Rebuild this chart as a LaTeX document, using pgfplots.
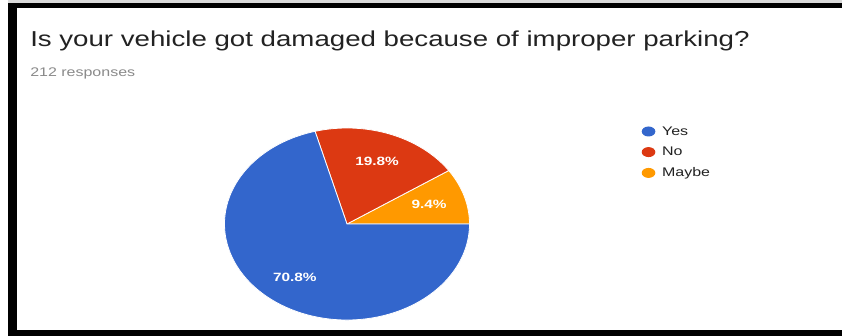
\documentclass[border=0pt]{standalone}
\usepackage{pgfplots}
\pgfplotsset{compat=1.18}
\usepackage{pgfplotstable}
\usepackage{fontspec}
\setmainfont{Liberation Sans}
\definecolor{gYes}{HTML}{3366CC}
\definecolor{gNo}{HTML}{DC3912}
\definecolor{gMaybe}{HTML}{FF9900}
\definecolor{titlec}{HTML}{222222}
\definecolor{subc}{HTML}{8A8A8A}
\pgfplotstableread{
label value
Yes 70.8
No 19.8
Maybe 9.4
}\piedata
\begin{document}
\begin{tikzpicture}[x=1pt,y=1pt]
\pgfplotstablegetelem{0}{value}\of\piedata \let\vYes\pgfplotsretval
\pgfplotstablegetelem{1}{value}\of\piedata \let\vNo\pgfplotsretval
\pgfplotstablegetelem{2}{value}\of\piedata \let\vMaybe\pgfplotsretval
\pgfmathsetmacro{\aA}{3.6*\vMaybe}
\pgfmathsetmacro{\aB}{\aA+3.6*\vNo}
\pgfmathsetmacro{\mA}{\aA/2}
\pgfmathsetmacro{\mB}{(\aA+\aB)/2}
\pgfmathsetmacro{\mC}{(\aB+360)/2}
\pgfmathsetmacro{\cA}{cos(\aA)}\pgfmathsetmacro{\sA}{sin(\aA)}
\pgfmathsetmacro{\cB}{cos(\aB)}\pgfmathsetmacro{\sB}{sin(\aB)}
\pgfmathsetmacro{\lAx}{0.7*cos(\mA)}\pgfmathsetmacro{\lAy}{0.7*sin(\mA)}
\pgfmathsetmacro{\lBx}{0.7*cos(\mB)}\pgfmathsetmacro{\lBy}{0.7*sin(\mB)}
\pgfmathsetmacro{\lCx}{0.7*cos(\mC)}\pgfmathsetmacro{\lCy}{0.7*sin(\mC)}
% frame
\fill[white] (0,0) rectangle (842,336);
\fill[black!15] (8,333) rectangle (842,336);
\fill[black] (8,328) rectangle (842,333);
\fill[black] (8,0) rectangle (17,333);
\fill[black] (8,0) rectangle (842,6);
% titles
\node[anchor=base west, inner sep=0pt, xscale=1.28, text=titlec, font=\fontsize{21.6}{25}\selectfont] at (30,289) {Is your vehicle got damaged because of improper parking?};
\node[anchor=base west, inner sep=0pt, xscale=1.28, text=subc, font=\fontsize{12.5}{15}\selectfont] at (30,259) {212 responses};
\begin{axis}[at={(347pt,112pt)}, anchor=center, scale only axis,
  width=245pt, height=192pt, xmin=-1, xmax=1, ymin=-1, ymax=1,
  hide axis, clip=false,
  legend style={at={(1.683,1.03)}, anchor=north west, draw=none, fill=none,
    font=\fontsize{12.5}{14}\selectfont, text=titlec, row sep=6.5pt,
    legend cell align=left},
  legend image code/.code={\path[draw=none, fill=none] (0,0) -- (20pt,0); \fill[#1, draw=none] (8.5pt,0) ellipse[x radius=6.8pt, y radius=5pt];}]
\addlegendimage{gYes}\addlegendentry{\scalebox{1.28}[1]{Yes}}
\addlegendimage{gNo}\addlegendentry{\scalebox{1.28}[1]{No}}
\addlegendimage{gMaybe}\addlegendentry{\scalebox{1.28}[1]{Maybe}}
\fill[gMaybe, draw=white, line width=0.8pt] (axis cs:0,0) -- (axis cs:1,0) arc[start angle=0, end angle=\aA, x radius=1, y radius=1] -- cycle;
\fill[gNo, draw=white, line width=0.8pt] (axis cs:0,0) -- (axis cs:\cA,\sA) arc[start angle=\aA, end angle=\aB, x radius=1, y radius=1] -- cycle;
\fill[gYes, draw=white, line width=0.8pt] (axis cs:0,0) -- (axis cs:\cB,\sB) arc[start angle=\aB, end angle=360, x radius=1, y radius=1] -- cycle;
\node[text=white, font=\bfseries\fontsize{12}{13}\selectfont, xscale=1.28] at (axis cs:\lAx,\lAy) {\vMaybe\%};
\node[text=white, font=\bfseries\fontsize{12}{13}\selectfont, xscale=1.28] at (axis cs:\lBx,\lBy) {\vNo\%};
\node[text=white, font=\bfseries\fontsize{12}{13}\selectfont, xscale=1.28] at (axis cs:\lCx,\lCy) {\vYes\%};
\end{axis}
\end{tikzpicture}
\end{document}
